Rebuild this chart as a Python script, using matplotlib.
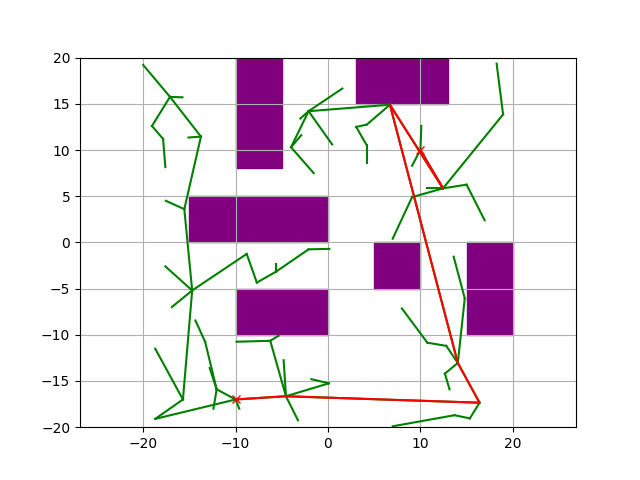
import matplotlib
matplotlib.use("Agg")
import matplotlib.pyplot as plt
from matplotlib.patches import Rectangle

# obstacles: (x, y, width, height)
obstacles = [
    (-10, 8, 5, 12),
    (3, 15, 10, 5),
    (-15, 0, 15, 5),
    (5, -5, 5, 5),
    (15, -10, 5, 10),
    (-10, -10, 10, 5),
]

start = (-10, -17)
goal = (10, 10)

# tree nodes and their parents (-1 = root)
node_x = [-10, -18.7, -15.7, -18.7, -14.7, -16.9, -17.6, -8.8, -7.7, -5.6,
          -5.6, -2.1, 0.15, -15.55, -17.55, -13.75, -15.1, -17.1, -15.75, -20.0,
          -19.05, -17.85, -17.6, -12.05, -12.4, -13.3, -14.35, -12.8, -9.6, -4.55,
          0.1, -1.8, -3.25, -4.8, -6.25, -5.35, -9.9, 16.4, 15.35, 13.7,
          7.0, 14.05, 12.65, 13.15, 12.8, 10.75, 8.0, 14.8, 13.6, 6.7,
          4.2, 3.05, 4.2, 4.2, -2.1, 1.55, 0.45, -3.0, -4.0, -2.9,
          -1.55, 12.45, 10.7, 15.0, 16.95, 18.95, 18.25, 9.1, 7.0, 10.0,
          10.1, 9.1]
node_y = [-17, -19.1, -17.0, -11.5, -5.2, -7.0, -2.6, -1.25, -4.35, -3.15,
          -2.3, -0.75, -0.7, 3.6, 4.5, 11.45, 11.35, 15.75, 15.7, 19.2,
          12.6, 11.2, 8.15, -15.9, -18.0, -10.75, -8.45, -13.6, -18.0, -16.65,
          -15.25, -14.8, -19.25, -12.75, -10.65, -10.1, -10.75, -17.35, -19.05, -18.7,
          -19.9, -13.05, -14.2, -15.9, -11.2, -10.85, -7.15, -6.05, -1.55, 14.9,
          12.75, 12.5, 10.5, 8.6, 14.2, 16.65, 10.6, 13.4, 10.3, 11.6,
          7.5, 5.85, 5.85, 6.25, 2.4, 13.85, 19.35, 4.9, 0.4, 10.0,
          12.6, 8.3]
parent = [-1, 0, 1, 2, 2, 4, 4, 4, 7, 8,
          9, 9, 11, 4, 13, 13, 15, 15, 17, 17,
          17, 20, 21, 0, 23, 23, 25, 23, 0, 0,
          29, 30, 29, 29, 29, 34, 34, 29, 37, 38,
          39, 37, 41, 42, 41, 44, 45, 41, 47, 41,
          49, 50, 51, 52, 49, 54, 54, 54, 54, 58,
          58, 49, 61, 61, 63, 61, 65, 61, 67, 61,
          69, 69]

# final path (node indices)
path = [0, 29, 37, 41, 49, 61, 69]

fig, ax = plt.subplots(figsize=(6.4, 4.8), dpi=100)

for ox, oy, w, h in obstacles:
    ax.add_patch(Rectangle((ox, oy), w, h, color="purple"))

for i, p in enumerate(parent):
    if p < 0:
        continue
    ax.plot([node_x[p], node_x[i]], [node_y[p], node_y[i]], "g-")

ax.plot([node_x[i] for i in path], [node_y[i] for i in path], "r-")
ax.plot(start[0], start[1], "rx")
ax.plot(goal[0], goal[1], "rx")

ax.set_xlim(-20, 20)
ax.set_ylim(-20, 20)
ax.set_aspect("equal", adjustable="datalim")
ax.grid(True)

fig.savefig("out.png")
